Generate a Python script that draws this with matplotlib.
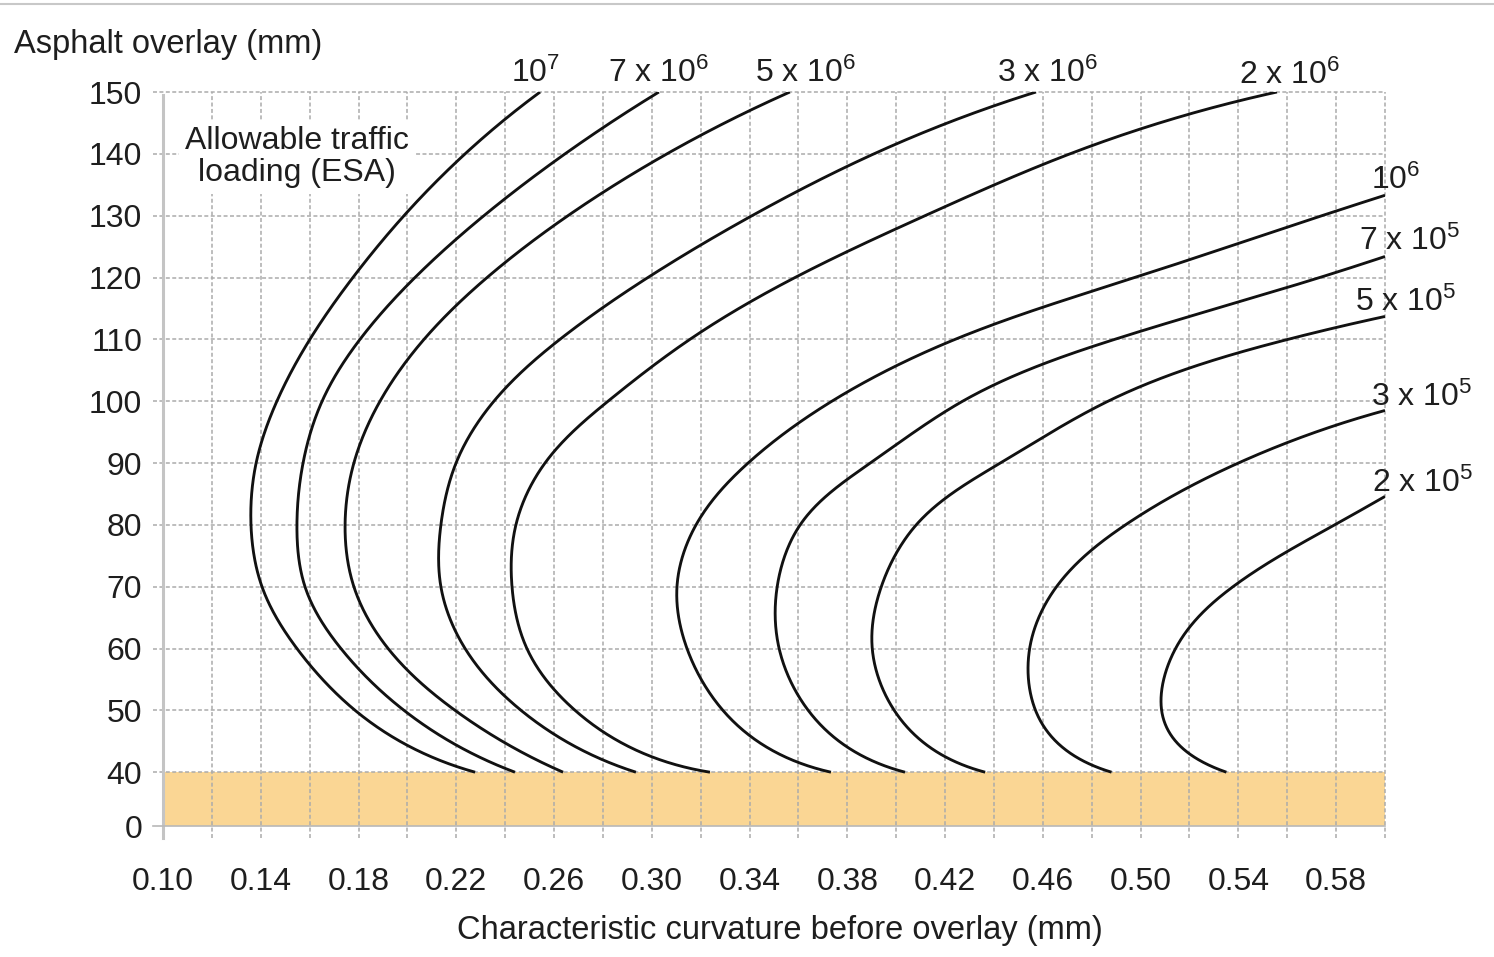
import numpy as np
import matplotlib
matplotlib.use("Agg")
import matplotlib.pyplot as plt
from matplotlib.lines import Line2D

plt.rcParams["font.family"] = ["Liberation Sans", "DejaVu Sans"]
plt.rcParams["mathtext.fontset"] = "custom"
plt.rcParams["mathtext.rm"] = "Liberation Sans"
plt.rcParams["mathtext.it"] = "Liberation Sans:italic"
plt.rcParams["mathtext.bf"] = "Liberation Sans:bold"

# ---------------------------------------------------------------- data
# Overlay thickness levels (mm) at which each curve was read
levels_top = [40, 50, 60, 70, 80, 90, 100, 110, 120, 130, 140, 150]

# Characteristic curvature (mm) for each allowable-traffic curve
esa_1e7_x = [0.2277, 0.1786, 0.1548, 0.1405, 0.1360, 0.1381, 0.1466, 0.1601, 0.1777, 0.1986, 0.2236, 0.2543]
esa_7e6_x = [0.2440, 0.1986, 0.1728, 0.1581, 0.1548, 0.1573, 0.1651, 0.1806, 0.2031, 0.2313, 0.2645, 0.3029]
esa_5e6_x = [0.2637, 0.2195, 0.1921, 0.1781, 0.1745, 0.1781, 0.1888, 0.2068, 0.2326, 0.2657, 0.3062, 0.3565]
esa_3e6_x = [0.2935, 0.2465, 0.2236, 0.2137, 0.2137, 0.2199, 0.2354, 0.2624, 0.2984, 0.3410, 0.3909, 0.4572]
esa_2e6_x = [0.3238, 0.2686, 0.2489, 0.2428, 0.2444, 0.2563, 0.2821, 0.3156, 0.3586, 0.4118, 0.4711, 0.5558]

esa_1e6_y = [40, 50, 60, 70, 80, 90, 100, 110, 120, 130, 133.3]
esa_1e6_x = [0.3733, 0.3291, 0.3144, 0.3103, 0.3181, 0.3394, 0.3737, 0.4241, 0.4977, 0.5742, 0.600]
esa_7e5_y = [40, 50, 60, 70, 80, 90, 100, 110, 120, 123.4]
esa_7e5_x = [0.4036, 0.3640, 0.3521, 0.3513, 0.3607, 0.3894, 0.4272, 0.4894, 0.5733, 0.600]
esa_5e5_y = [40, 50, 60, 70, 80, 90, 100, 110, 113.7]
esa_5e5_x = [0.4364, 0.3992, 0.3902, 0.3939, 0.4082, 0.4426, 0.4867, 0.5603, 0.600]
esa_3e5_y = [40, 50, 60, 70, 80, 90, 98.5]
esa_3e5_x = [0.4881, 0.4570, 0.4546, 0.4656, 0.4938, 0.5400, 0.600]
esa_2e5_y = [40, 50, 60, 70, 80, 84.6]
esa_2e5_x = [0.5351, 0.5086, 0.5143, 0.5378, 0.5794, 0.600]

top_labels = ["10$^{7}$", "7 x 10$^{6}$", "5 x 10$^{6}$", "3 x 10$^{6}$", "2 x 10$^{6}$"]
side_labels = ["10$^{6}$", "7 x 10$^{5}$", "5 x 10$^{5}$", "3 x 10$^{5}$", "2 x 10$^{5}$"]

x_ticks = [0.10, 0.14, 0.18, 0.22, 0.26, 0.30, 0.34, 0.38, 0.42, 0.46, 0.50, 0.54, 0.58]
y_ticks = [0, 40, 50, 60, 70, 80, 90, 100, 110, 120, 130, 140, 150]
band_top = 40  # minimum overlay band

# label offsets in pixels from the end point of each curve (layout only)
top_offsets = [(-5, 10), (0, 10), (16, 10), (11, 10), (13, 8)]
side_offsets = [(11, 6), (25, 6), (21, 5), (37, 4), (38, 4)]


# ---------------------------------------------------------------- helpers
def runout_coeffs(t, v):
    """Second derivatives of a cubic spline with parabolic run-out ends."""
    n = len(t)
    h = np.diff(t)
    A = np.zeros((n, n))
    r = np.zeros(n)
    A[0, 0], A[0, 1] = 1.0, -1.0
    A[-1, -1], A[-1, -2] = 1.0, -1.0
    for i in range(1, n - 1):
        A[i, i - 1] = h[i - 1]
        A[i, i] = 2 * (h[i - 1] + h[i])
        A[i, i + 1] = h[i]
        r[i] = 6 * ((v[i + 1] - v[i]) / h[i] - (v[i] - v[i - 1]) / h[i - 1])
    return np.linalg.solve(A, r)


def eval_spline(t, v, M, tq):
    idx = np.clip(np.searchsorted(t, tq) - 1, 0, len(t) - 2)
    t0, t1 = t[idx], t[idx + 1]
    hh = t1 - t0
    m0, m1 = M[idx], M[idx + 1]
    v0, v1 = v[idx], v[idx + 1]
    return (m0 / (6 * hh) * (t1 - tq) ** 3 + m1 / (6 * hh) * (tq - t0) ** 3
            + (v0 / hh - m0 * hh / 6) * (t1 - tq) + (v1 / hh - m1 * hh / 6) * (tq - t0))


def smooth_curve(xs, ys, n=600):
    """Parametric cubic spline through the read points (chord length in screen units)."""
    X = np.asarray(xs, float) * 2444.0
    Y = np.asarray(ys, float) * 6.18
    t = np.concatenate([[0], np.cumsum(np.hypot(np.diff(X), np.diff(Y)))])
    tq = np.linspace(0, t[-1], n)
    xq = eval_spline(t, X, runout_coeffs(t, X), tq) / 2444.0
    yq = eval_spline(t, Y, runout_coeffs(t, Y), tq) / 6.18
    return xq, yq


def fwd(y):
    y = np.asarray(y, float)
    return np.where(y < band_top, 31.3 + y * (band_top - 31.3) / band_top, y)


def inv(v):
    v = np.asarray(v, float)
    return np.where(v < band_top, (v - 31.3) * band_top / (band_top - 31.3), v)


# ---------------------------------------------------------------- figure
W, H = 1494, 957
fig = plt.figure(figsize=(W / 100, H / 100), dpi=100)
ax = fig.add_axes([163 / W, (H - 826) / H, (1385 - 163) / W, (826 - 92) / H])
ax.set_yscale("function", functions=(fwd, inv))
ax.set_xlim(0.10, 0.60)
ax.set_ylim(0, 150)

for s in ax.spines.values():
    s.set_visible(False)

txt_color = "#1e1e1e"
grid_color = "#ababab"
dash = (0, (2.6, 1.6))

# minimum-overlay band
ax.fill_between([0.10, 0.60], 0, band_top, color="#fad694", lw=0, zorder=0)

# grid
xt = ax.get_xaxis_transform()
yt = ax.get_yaxis_transform()
for gx in np.arange(0.12, 0.6001, 0.02):
    ax.plot([gx, gx], [-0.017, 1.0], transform=xt, color=grid_color, lw=1.1,
            ls=dash, clip_on=False, zorder=1)
for gy in [40, 50, 60, 70, 80, 90, 100, 110, 120, 130, 140, 150]:
    ax.plot([-0.008, 1.0], [gy, gy], transform=yt, color=grid_color, lw=1.1,
            ls=dash, clip_on=False, zorder=1)
# axis lines
ax.plot([0.10, 0.10], [-0.017, 0.996], transform=xt, color="#c4c4c4", lw=2.2,
        clip_on=False, zorder=1.5)
ax.plot([-0.008, 1.0], [0, 0], transform=yt, color="#b8b8b8", lw=1.2,
        clip_on=False, zorder=1.5)

# curves
top_curves = [esa_1e7_x, esa_7e6_x, esa_5e6_x, esa_3e6_x, esa_2e6_x]
side_curves = [(esa_1e6_y, esa_1e6_x), (esa_7e5_y, esa_7e5_x), (esa_5e5_y, esa_5e5_x),
               (esa_3e5_y, esa_3e5_x), (esa_2e5_y, esa_2e5_x)]

lab_kw = dict(fontsize=23, color=txt_color, textcoords="offset pixels",
              annotation_clip=False, ha="center", va="baseline")

for xs, lab, off in zip(top_curves, top_labels, top_offsets):
    cx, cy = smooth_curve(xs, levels_top)
    ax.plot(cx, cy, color="#111111", lw=2.05, solid_capstyle="butt", zorder=3)
    ax.annotate(lab, (xs[-1], levels_top[-1]), xytext=off, **lab_kw)

for (ys, xs), lab, off in zip(side_curves, side_labels, side_offsets):
    cx, cy = smooth_curve(xs, ys)
    ax.plot(cx, cy, color="#111111", lw=2.05, solid_capstyle="butt", zorder=3)
    ax.annotate(lab, (xs[-1], ys[-1]), xytext=off, **lab_kw)

# ticks
ax.set_xticks(x_ticks)
ax.set_xticklabels([f"{v:.2f}" for v in x_ticks])
ax.set_yticks(y_ticks)
ax.set_yticklabels([str(v) for v in y_ticks])
ax.minorticks_off()
ax.tick_params(axis="both", length=0, labelsize=23, labelcolor=txt_color)
ax.tick_params(axis="x", pad=29.5)
ax.tick_params(axis="y", pad=15)

# texts
ax.text(0.1548, 139.5, "Allowable traffic\nloading (ESA)", ha="center", va="center",
        fontsize=23, color=txt_color, linespacing=1.05, zorder=2,
        bbox=dict(boxstyle="square,pad=0.2", facecolor="white", edgecolor="none"))
fig.text(14 / W, 1 - 45 / H, "Asphalt overlay (mm)", ha="left", va="center",
         fontsize=23.5, color=txt_color)
fig.text(780 / W, 1 - 930 / H, "Characteristic curvature before overlay (mm)",
         ha="center", va="center", fontsize=23.5, color=txt_color)

fig.add_artist(Line2D([0, 1], [1 - 3.5 / H, 1 - 3.5 / H], color="#c8c8c8", lw=1.5))

fig.savefig("out.png", dpi=100, facecolor="white")
